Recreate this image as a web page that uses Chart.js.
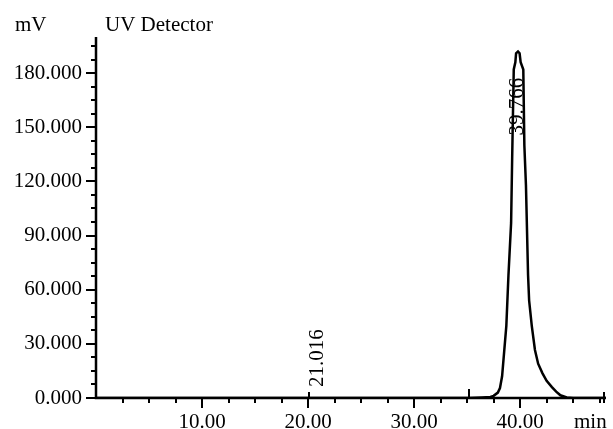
<!DOCTYPE html>
<html>
<head>
<meta charset="utf-8">
<script src="https://cdn.jsdelivr.net/npm/chart.js@4.4.0/dist/chart.umd.min.js"></script>
<style>
  html, body { margin: 0; padding: 0; background: #fff; }
  canvas { display: block; }
</style>
</head>
<body>
<canvas id="myChart" width="613" height="429"></canvas>
<script>
// chromatogram trace (min, mV)
const times  = [0, 20.1, 35.2, 36.4, 37.2, 37.5, 37.9, 38.1, 38.3, 38.5, 38.7, 38.9, 39.15, 39.25, 39.4, 39.55, 39.62, 39.8,
                39.95, 40.05, 40.3, 40.4, 40.55, 40.75, 40.85, 41.1, 41.4, 41.7, 42.1, 42.5, 43.0, 43.4, 43.8, 44.4, 45.0, 48.1];
const signal = [0, 0, 0, 0.3, 0.6, 1.2, 3, 5.5, 12, 26, 40, 68, 97, 133, 182, 186, 191, 192,
                191, 186, 182, 140, 118, 68, 54, 40, 26.6, 19, 13.8, 9.5, 6, 3.5, 1.5, 0.3, 0, 0];
const xTicks = [10, 20, 30, 40];
const yTicks = [0, 30, 60, 90, 120, 150, 180];
const peakTimes = [20.1, 39.8];
const peakNames = ['21.016', '39.766'];
const eventTimes = [20.1, 35.2, 47.9];

const serif = "'Liberation Serif', 'Times New Roman', serif";

const drawAxes = {
  id: 'drawAxes',
  afterDraw(chart) {
    const {ctx, chartArea: a, scales: {x, y}} = chart;
    ctx.save();
    ctx.strokeStyle = '#000';
    ctx.fillStyle = '#000';
    ctx.lineWidth = 2.5;
    ctx.beginPath();
    ctx.moveTo(a.left, a.top);
    ctx.lineTo(a.left, a.bottom);
    ctx.lineTo(a.right, a.bottom);
    ctx.stroke();

    ctx.lineWidth = 2;
    ctx.beginPath();
    for (let v = 0; v <= 196; v += 7.5) {
      const py = Math.round(y.getPixelForValue(v));
      ctx.moveTo(a.left - (v % 30 === 0 ? 10 : 5), py);
      ctx.lineTo(a.left, py);
    }
    for (let t = 2.5; t < 48; t += 2.5) {
      const px = Math.round(x.getPixelForValue(t));
      ctx.moveTo(px, a.bottom);
      ctx.lineTo(px, a.bottom + (t % 10 === 0 ? 10 : 5));
    }
    // event marks on the baseline
    eventTimes.forEach((t, i) => {
      const px = Math.round(x.getPixelForValue(t));
      ctx.moveTo(px, a.bottom + (i === 2 ? 5 : 0));
      ctx.lineTo(px, a.bottom - (i === 1 ? 9 : 6));
    });
    ctx.stroke();

    // peak names
    ctx.font = '21px ' + serif;
    ctx.textAlign = 'left';
    ctx.textBaseline = 'middle';
    peakTimes.forEach((t, i) => {
      const px = x.getPixelForValue(t);
      ctx.save();
      if (i === 0) {
        ctx.translate(px + 8, a.bottom - 11);
      } else {
        ctx.translate(px - 0.5, y.getPixelForValue(192) + 84);
      }
      ctx.rotate(-Math.PI / 2);
      ctx.fillText(peakNames[i], 0, 0);
      ctx.restore();
    });

    // titles
    ctx.textBaseline = 'alphabetic';
    ctx.fillText('mV', 15, 31);
    ctx.fillText('UV Detector', 105, 31);
    ctx.fillText('min', 574, 428);
    ctx.restore();
  }
};

const ctx = document.getElementById('myChart').getContext('2d');
const chart = new Chart(ctx, {
  type: 'line',
  data: {
    datasets: [{
      data: times.map((t, i) => ({x: t, y: signal[i]})),
      borderColor: '#000',
      borderWidth: 2.5,
      pointRadius: 0,
      tension: 0,
      fill: false
    }]
  },
  options: {
    responsive: false,
    devicePixelRatio: 1,
    animation: false,
    layout: {padding: {top: 37, right: 7, left: 0, bottom: 0}},
    plugins: {legend: {display: false}, tooltip: {enabled: false}, title: {display: false}},
    scales: {
      x: {
        type: 'linear',
        min: 0,
        max: 48.1,
        grid: {display: false, drawTicks: false},
        border: {display: false},
        afterBuildTicks: s => { s.ticks = xTicks.map(v => ({value: v})); },
        afterFit: s => { s.height = 31; },
        ticks: {
          autoSkip: false,
          maxRotation: 0,
          padding: 12,
          color: '#000',
          font: {family: serif, size: 21},
          callback: v => Number(v).toFixed(2)
        }
      },
      y: {
        type: 'linear',
        min: 0,
        max: 200,
        grid: {display: false, drawTicks: false},
        border: {display: false},
        afterBuildTicks: s => { s.ticks = yTicks.map(v => ({value: v})); },
        afterFit: s => { s.width = 96; },
        ticks: {
          autoSkip: false,
          padding: 14,
          color: '#000',
          font: {family: serif, size: 21},
          callback: v => Number(v).toFixed(3)
        }
      }
    }
  },
  plugins: [drawAxes]
});
</script>
</body>
</html>
